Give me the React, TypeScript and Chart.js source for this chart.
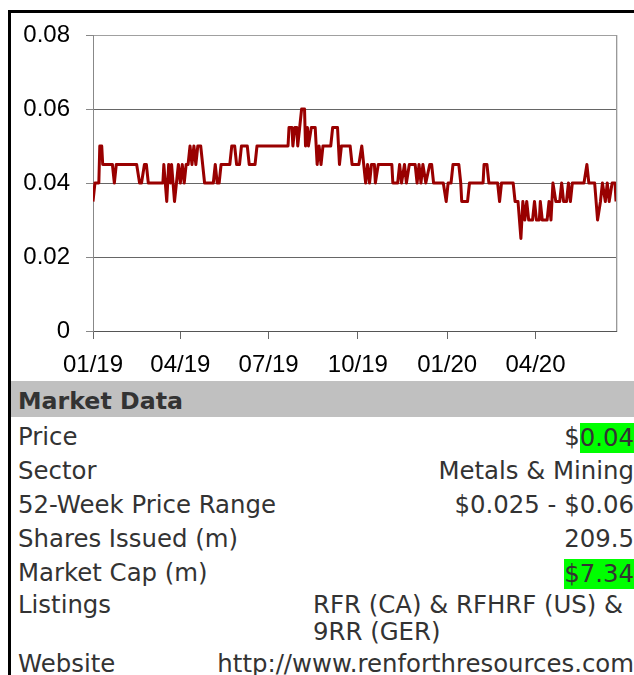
import React, { useEffect, useRef } from "react";
import { Chart, registerables } from "chart.js";

Chart.register(...registerables);

// Days counted from 2019-01-01
const xTickDays = [0, 90, 181, 273, 365, 456];
const xTickLabels = ["01/19", "04/19", "07/19", "10/19", "01/20", "04/20"];
const xMaxDay = 539;
const yTickValues = [0, 0.02, 0.04, 0.06, 0.08];

const priceDays = [
  0, 2, 6, 7, 9, 10, 20, 22, 24, 45, 48, 50, 53, 55, 57, 72, 73, 76, 78, 80, 81, 84, 88, 90, 92, 94, 96, 98,
  100, 102, 104, 106, 108, 111, 113, 115, 124, 126, 128, 130, 132, 141, 143, 146, 148, 151, 153, 159, 161,
  167, 169, 201, 202, 205, 206, 208, 210, 211, 213, 215, 218, 219, 221, 222, 225, 229, 231, 233, 235, 237,
  245, 247, 252, 254, 256, 265, 267, 274, 277, 279, 281, 283, 285, 287, 290, 291, 294, 308, 309, 314, 316,
  318, 321, 323, 326, 332, 334, 336, 338, 340, 343, 347, 349, 351, 361, 364, 366, 369, 371, 377, 379, 380,
  386, 388, 402, 403, 406, 408, 417, 419, 421, 433, 435, 438, 441, 443, 445, 447, 449, 453, 455, 457, 460,
  461, 463, 468, 470, 472, 474, 477, 481, 483, 485, 488, 490, 492, 494, 506, 509, 511, 517, 520, 523, 525,
  528, 530, 532, 535, 538, 539,
];
const priceValues = [
  0.035, 0.04, 0.04, 0.05, 0.05, 0.045, 0.045, 0.04, 0.045, 0.045, 0.04, 0.04, 0.045, 0.045, 0.04, 0.04,
  0.045, 0.035, 0.045, 0.04, 0.045, 0.035, 0.045, 0.04, 0.045, 0.04, 0.045, 0.045,
  0.05, 0.045, 0.05, 0.045, 0.05, 0.05, 0.045, 0.04, 0.04, 0.045, 0.04, 0.04, 0.045, 0.045, 0.05, 0.05,
  0.045, 0.045, 0.05, 0.05, 0.045,
  0.045, 0.05, 0.05, 0.055, 0.055, 0.05, 0.055, 0.055, 0.05, 0.055, 0.06, 0.06, 0.05, 0.055, 0.05, 0.055,
  0.055, 0.045, 0.05, 0.045, 0.05,
  0.05, 0.055, 0.055, 0.045, 0.05, 0.05, 0.045, 0.045, 0.05, 0.045, 0.04, 0.045, 0.04, 0.045, 0.045, 0.04,
  0.045, 0.045, 0.04, 0.04, 0.045,
  0.04, 0.045, 0.04, 0.045, 0.045, 0.04, 0.045, 0.04, 0.045, 0.04, 0.045, 0.045, 0.04, 0.04, 0.035, 0.04,
  0.04, 0.045, 0.045, 0.04, 0.035,
  0.035, 0.04, 0.04, 0.045, 0.045, 0.04, 0.04, 0.035, 0.04, 0.04, 0.035, 0.035, 0.025, 0.035, 0.03, 0.035,
  0.03, 0.03, 0.035, 0.03, 0.03,
  0.035, 0.03, 0.03, 0.035, 0.03, 0.04, 0.035, 0.035, 0.04, 0.035, 0.035, 0.04, 0.035, 0.04, 0.04, 0.045,
  0.04, 0.04, 0.03, 0.035, 0.04,
  0.035, 0.04, 0.035, 0.04, 0.04, 0.035,
];

const marketTitle = "Market Data";
const marketLabels = [
  "Price",
  "Sector",
  "52-Week Price Range",
  "Shares Issued (m)",
  "Market Cap (m)",
  "Listings",
  "Website",
];
const marketValues = [
  "$0.04",
  "Metals & Mining",
  "$0.025 - $0.06",
  "209.5",
  "$7.34",
  "RFR (CA) & RFHRF (US) & 9RR (GER)",
  "http://www.renforthresources.com",
];
const marketHighlights = ["0.04", "", "", "", "$7.34", "", ""];

const plotFrame = {
  id: "plotFrame",
  beforeDatasetsDraw(chart: any) {
    const { ctx, chartArea } = chart;
    const { top, bottom, right } = chartArea;
    ctx.save();
    ctx.lineWidth = 1;
    ctx.strokeStyle = "#999";
    ctx.beginPath();
    ctx.moveTo(Math.round(right) + 0.5, top);
    ctx.lineTo(Math.round(right) + 0.5, bottom);
    ctx.stroke();
    ctx.strokeStyle = "#ddd";
    ctx.beginPath();
    ctx.moveTo(Math.round(right) + 1.5, top);
    ctx.lineTo(Math.round(right) + 1.5, bottom + 1);
    ctx.stroke();
    ctx.restore();
  },
};

const chartFont = '"Liberation Sans", Arial, sans-serif';

export default function App() {
  const ref = useRef<HTMLCanvasElement>(null);

  useEffect(() => {
    if (!ref.current) return;
    const chart = new Chart(ref.current, {
      type: "line",
      data: {
        datasets: [
          {
            data: priceDays.map((d, i) => ({ x: d, y: priceValues[i] })),
            borderColor: "#990000",
            borderWidth: 3,
            borderJoinStyle: "round",
            pointRadius: 0,
            tension: 0,
            fill: false,
          },
        ],
      },
      options: {
        animation: false,
        responsive: false,
        devicePixelRatio: 1,
        layout: { padding: { left: 0, top: 22, right: 18, bottom: 0 } },
        plugins: { legend: { display: false }, tooltip: { enabled: false } },
        scales: {
          x: {
            type: "linear",
            min: 0,
            max: xMaxDay,
            afterBuildTicks: (s: any) => {
              s.ticks = xTickDays.map((v) => ({ value: v }));
            },
            afterFit: (s: any) => {
              s.height = 50;
              s.paddingLeft = 0;
              s.paddingRight = 0;
            },
            ticks: {
              autoSkip: false,
              maxRotation: 0,
              padding: 12,
              color: "#000",
              font: { family: chartFont, size: 24 },
              callback: (_v: any, i: number) => xTickLabels[i],
            },
            grid: { drawOnChartArea: false, tickLength: 8, tickColor: "#666" },
            border: { color: "#555", width: 1 },
          },
          y: {
            type: "linear",
            min: 0,
            max: 0.08,
            afterBuildTicks: (s: any) => {
              s.ticks = yTickValues.map((v) => ({ value: v }));
            },
            afterFit: (s: any) => {
              s.width = 82;
              s.paddingTop = 0;
              s.paddingBottom = 0;
            },
            ticks: {
              padding: 16,
              color: "#000",
              font: { family: chartFont, size: 24 },
              callback: (v: any) => (v === 0 ? "0" : Number(v).toFixed(2)),
            },
            grid: {
              color: (c: any) => (c.tick && Math.abs(c.tick.value - 0.08) < 1e-9 ? "#a0a0a0" : "#666"),
              tickLength: 7,
              tickColor: "#888",
            },
            border: { color: "#888", width: 1 },
          },
        },
      },
      plugins: [plotFrame],
    } as any);
    return () => chart.destroy();
  }, []);

  const renderValue = (value: string, i: number) => {
    const h = marketHighlights[i];
    if (!h) return value;
    const idx = value.lastIndexOf(h);
    return (
      <>
        {value.slice(0, idx)}
        <span
          style={{
            background: "#00ff00",
            display: "inline-block",
            lineHeight: "30px",
            height: 30,
            verticalAlign: "middle",
          }}
        >
          {h}
        </span>
      </>
    );
  };

  return (
    <div
      style={{
        position: "fixed",
        left: 0,
        top: 0,
        width: 634,
        height: 675,
        overflow: "hidden",
        background: "#fff",
      }}
    >
      <div
        style={{
          position: "absolute",
          left: 8,
          top: 10,
          width: 626,
          boxSizing: "border-box",
          borderLeft: "3px solid #000",
          borderTop: "3px solid #000",
          fontFamily: '"DejaVu Sans", Verdana, sans-serif',
          color: "#333",
          fontSize: 24.4,
        }}
      >
        <div style={{ height: 368 }}>
          <canvas ref={ref} width={623} height={368} style={{ display: "block", width: 623, height: 368 }} />
        </div>
        <div
          style={{
            height: 36,
            lineHeight: "40px",
            background: "#c0c0c0",
            fontWeight: "bold",
            fontSize: 23.7,
            paddingLeft: 7,
            marginBottom: 4,
            overflow: "hidden",
          }}
        >
          {marketTitle}
        </div>
        {marketLabels.map((label, i) => {
          const multi = i === 5;
          return (
            <div
              key={label}
              style={{
                position: "relative",
                height: multi ? 55 : 32,
                lineHeight: multi ? "27px" : "32px",
                marginBottom: 2,
                whiteSpace: multi ? "normal" : "nowrap",
              }}
            >
              <div style={{ position: "absolute", left: 7, top: 0 }}>{label}</div>
              {multi ? (
                <div style={{ position: "absolute", left: 302, top: 0, width: 321 }}>{marketValues[i]}</div>
              ) : (
                <div style={{ position: "absolute", right: 0, top: 0 }}>{renderValue(marketValues[i], i)}</div>
              )}
            </div>
          );
        })}
      </div>
    </div>
  );
}
